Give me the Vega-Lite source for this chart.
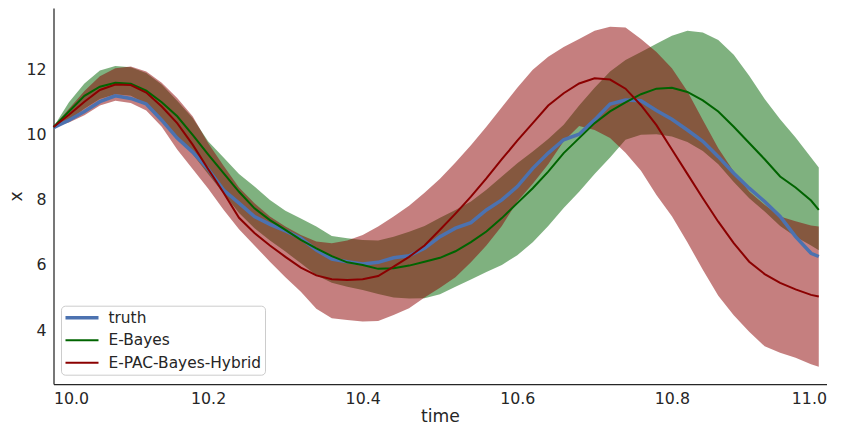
{
  "$schema": "https://vega.github.io/schema/vega-lite/v6.json",
  "width": 773,
  "height": 376,
  "autosize": {"type": "none"},
  "padding": {"left": 53.5, "top": 8, "right": 20.5, "bottom": 46},
  "background": "white",
  "data": {"values": [
    {"t": 10.00, "truth": 10.22, "eb": 10.24, "eb_lo": 10.24, "eb_hi": 10.24, "pac": 10.24, "pac_lo": 10.24, "pac_hi": 10.24},
    {"t": 10.02, "truth": 10.45, "eb": 10.72, "eb_lo": 10.45, "eb_hi": 11.0, "pac": 10.62, "pac_lo": 10.38, "pac_hi": 10.8},
    {"t": 10.04, "truth": 10.72, "eb": 11.2, "eb_lo": 10.8, "eb_hi": 11.58, "pac": 11.02, "pac_lo": 10.6, "pac_hi": 11.35},
    {"t": 10.06, "truth": 11.02, "eb": 11.48, "eb_lo": 11.1, "eb_hi": 11.98, "pac": 11.38, "pac_lo": 10.9, "pac_hi": 11.8},
    {"t": 10.08, "truth": 11.2, "eb": 11.6, "eb_lo": 11.25, "eb_hi": 12.12, "pac": 11.55, "pac_lo": 11.05, "pac_hi": 12.05},
    {"t": 10.10, "truth": 11.12, "eb": 11.57, "eb_lo": 11.2, "eb_hi": 12.08, "pac": 11.53, "pac_lo": 10.98, "pac_hi": 12.1},
    {"t": 10.12, "truth": 10.95, "eb": 11.36, "eb_lo": 10.95, "eb_hi": 11.9, "pac": 11.3, "pac_lo": 10.75, "pac_hi": 11.95},
    {"t": 10.14, "truth": 10.45, "eb": 11.0, "eb_lo": 10.5, "eb_hi": 11.55, "pac": 10.87, "pac_lo": 10.25, "pac_hi": 11.6},
    {"t": 10.16, "truth": 9.9, "eb": 10.57, "eb_lo": 9.95, "eb_hi": 11.05, "pac": 10.36, "pac_lo": 9.55, "pac_hi": 11.13},
    {"t": 10.18, "truth": 9.47, "eb": 10.0, "eb_lo": 9.4, "eb_hi": 10.52, "pac": 9.7, "pac_lo": 8.95, "pac_hi": 10.57},
    {"t": 10.20, "truth": 8.95, "eb": 9.4, "eb_lo": 8.8, "eb_hi": 9.8, "pac": 8.95, "pac_lo": 8.35, "pac_hi": 9.75},
    {"t": 10.22, "truth": 8.3, "eb": 8.82, "eb_lo": 8.2, "eb_hi": 9.3, "pac": 8.22, "pac_lo": 7.7, "pac_hi": 9.05},
    {"t": 10.24, "truth": 7.9, "eb": 8.25, "eb_lo": 7.6, "eb_hi": 8.8, "pac": 7.45, "pac_lo": 7.1, "pac_hi": 8.38},
    {"t": 10.26, "truth": 7.49, "eb": 7.74, "eb_lo": 7.13, "eb_hi": 8.41, "pac": 6.98, "pac_lo": 6.6, "pac_hi": 7.9},
    {"t": 10.28, "truth": 7.25, "eb": 7.38, "eb_lo": 6.75, "eb_hi": 8.0, "pac": 6.6, "pac_lo": 6.1, "pac_hi": 7.49},
    {"t": 10.30, "truth": 7.05, "eb": 7.08, "eb_lo": 6.41, "eb_hi": 7.67, "pac": 6.25, "pac_lo": 5.62, "pac_hi": 7.18},
    {"t": 10.32, "truth": 6.82, "eb": 6.77, "eb_lo": 6.05, "eb_hi": 7.43, "pac": 5.92, "pac_lo": 5.18, "pac_hi": 6.92},
    {"t": 10.34, "truth": 6.46, "eb": 6.51, "eb_lo": 5.68, "eb_hi": 7.18, "pac": 5.68, "pac_lo": 4.65, "pac_hi": 6.72},
    {"t": 10.36, "truth": 6.18, "eb": 6.27, "eb_lo": 5.45, "eb_hi": 6.89, "pac": 5.56, "pac_lo": 4.36, "pac_hi": 6.67},
    {"t": 10.38, "truth": 6.1, "eb": 6.08, "eb_lo": 5.33, "eb_hi": 6.82, "pac": 5.54, "pac_lo": 4.31, "pac_hi": 6.75},
    {"t": 10.40, "truth": 6.03, "eb": 6.0, "eb_lo": 5.23, "eb_hi": 6.77, "pac": 5.56, "pac_lo": 4.26, "pac_hi": 6.92},
    {"t": 10.42, "truth": 6.08, "eb": 5.88, "eb_lo": 5.11, "eb_hi": 6.75, "pac": 5.66, "pac_lo": 4.28, "pac_hi": 7.18},
    {"t": 10.44, "truth": 6.22, "eb": 5.9, "eb_lo": 5.0, "eb_hi": 6.87, "pac": 5.95, "pac_lo": 4.46, "pac_hi": 7.49},
    {"t": 10.46, "truth": 6.28, "eb": 5.98, "eb_lo": 4.97, "eb_hi": 7.02, "pac": 6.25, "pac_lo": 4.67, "pac_hi": 7.82},
    {"t": 10.48, "truth": 6.51, "eb": 6.1, "eb_lo": 4.98, "eb_hi": 7.2, "pac": 6.6, "pac_lo": 5.0, "pac_hi": 8.22},
    {"t": 10.50, "truth": 6.87, "eb": 6.22, "eb_lo": 5.1, "eb_hi": 7.45, "pac": 7.08, "pac_lo": 5.3, "pac_hi": 8.65},
    {"t": 10.52, "truth": 7.13, "eb": 6.42, "eb_lo": 5.33, "eb_hi": 7.69, "pac": 7.58, "pac_lo": 5.62, "pac_hi": 9.15},
    {"t": 10.54, "truth": 7.3, "eb": 6.7, "eb_lo": 5.55, "eb_hi": 7.95, "pac": 8.1, "pac_lo": 6.08, "pac_hi": 9.68},
    {"t": 10.56, "truth": 7.69, "eb": 7.03, "eb_lo": 5.78, "eb_hi": 8.31, "pac": 8.66, "pac_lo": 6.6, "pac_hi": 10.25},
    {"t": 10.58, "truth": 8.0, "eb": 7.44, "eb_lo": 6.0, "eb_hi": 8.72, "pac": 9.25, "pac_lo": 7.2, "pac_hi": 10.85},
    {"t": 10.60, "truth": 8.41, "eb": 7.9, "eb_lo": 6.3, "eb_hi": 9.13, "pac": 9.82, "pac_lo": 7.95, "pac_hi": 11.45},
    {"t": 10.62, "truth": 8.97, "eb": 8.36, "eb_lo": 6.7, "eb_hi": 9.49, "pac": 10.36, "pac_lo": 8.5, "pac_hi": 12.0},
    {"t": 10.64, "truth": 9.44, "eb": 8.87, "eb_lo": 7.2, "eb_hi": 9.87, "pac": 10.9, "pac_lo": 9.1, "pac_hi": 12.4},
    {"t": 10.66, "truth": 9.85, "eb": 9.44, "eb_lo": 7.75, "eb_hi": 10.31, "pac": 11.28, "pac_lo": 9.8, "pac_hi": 12.7},
    {"t": 10.68, "truth": 10.02, "eb": 9.9, "eb_lo": 8.25, "eb_hi": 10.9, "pac": 11.58, "pac_lo": 10.27, "pac_hi": 12.95},
    {"t": 10.70, "truth": 10.46, "eb": 10.36, "eb_lo": 8.8, "eb_hi": 11.45, "pac": 11.74, "pac_lo": 10.15, "pac_hi": 13.2},
    {"t": 10.72, "truth": 10.95, "eb": 10.72, "eb_lo": 9.3, "eb_hi": 11.95, "pac": 11.7, "pac_lo": 9.9, "pac_hi": 13.32},
    {"t": 10.74, "truth": 11.07, "eb": 11.0, "eb_lo": 9.85, "eb_hi": 12.3, "pac": 11.42, "pac_lo": 9.45, "pac_hi": 13.3},
    {"t": 10.76, "truth": 11.05, "eb": 11.25, "eb_lo": 10.0, "eb_hi": 12.55, "pac": 10.91, "pac_lo": 8.9, "pac_hi": 12.95},
    {"t": 10.78, "truth": 10.75, "eb": 11.42, "eb_lo": 10.02, "eb_hi": 12.8, "pac": 10.3, "pac_lo": 8.15, "pac_hi": 12.55},
    {"t": 10.80, "truth": 10.48, "eb": 11.45, "eb_lo": 9.95, "eb_hi": 13.05, "pac": 9.55, "pac_lo": 7.5, "pac_hi": 12.05},
    {"t": 10.82, "truth": 10.15, "eb": 11.32, "eb_lo": 9.78, "eb_hi": 13.2, "pac": 8.8, "pac_lo": 6.7, "pac_hi": 11.34},
    {"t": 10.84, "truth": 9.8, "eb": 11.06, "eb_lo": 9.5, "eb_hi": 13.15, "pac": 8.05, "pac_lo": 5.85, "pac_hi": 10.46},
    {"t": 10.86, "truth": 9.33, "eb": 10.72, "eb_lo": 9.1, "eb_hi": 12.92, "pac": 7.33, "pac_lo": 5.05, "pac_hi": 9.59},
    {"t": 10.88, "truth": 8.82, "eb": 10.25, "eb_lo": 8.55, "eb_hi": 12.46, "pac": 6.67, "pac_lo": 4.45, "pac_hi": 8.87},
    {"t": 10.90, "truth": 8.36, "eb": 9.75, "eb_lo": 8.05, "eb_hi": 11.82, "pac": 6.1, "pac_lo": 3.95, "pac_hi": 8.26},
    {"t": 10.92, "truth": 7.95, "eb": 9.25, "eb_lo": 7.64, "eb_hi": 11.1, "pac": 5.72, "pac_lo": 3.5, "pac_hi": 7.85},
    {"t": 10.94, "truth": 7.49, "eb": 8.72, "eb_lo": 7.2, "eb_hi": 10.48, "pac": 5.45, "pac_lo": 3.3, "pac_hi": 7.49},
    {"t": 10.96, "truth": 6.87, "eb": 8.38, "eb_lo": 6.87, "eb_hi": 9.92, "pac": 5.25, "pac_lo": 3.15, "pac_hi": 7.34},
    {"t": 10.98, "truth": 6.36, "eb": 7.98, "eb_lo": 6.6, "eb_hi": 9.3, "pac": 5.08, "pac_lo": 2.95, "pac_hi": 7.21},
    {"t": 10.99, "truth": 6.26, "eb": 7.69, "eb_lo": 6.45, "eb_hi": 9.0, "pac": 5.03, "pac_lo": 2.87, "pac_hi": 7.18}
  ]},
  "encoding": {
    "x": {"field": "t", "type": "quantitative",
      "scale": {"domain": [10, 11], "nice": false},
      "axis": {"values": [10, 10.2, 10.4, 10.6, 10.8, 11], "format": ".1f", "title": "time",
        "labelBaseline": "alphabetic", "labelPadding": 19.3,
        "titleBaseline": "alphabetic", "titleY": 37.7}}
  },
  "layer": [
    {"mark": {"type": "area", "color": "#006400", "opacity": 0.5},
     "encoding": {
       "y": {"field": "eb_lo", "type": "quantitative", "title": "x",
         "scale": {"domain": [2.34, 13.9], "nice": false, "zero": false},
         "axis": {"values": [4, 6, 8, 10, 12], "labelPadding": 7.5,
           "titleBaseline": "alphabetic", "titleX": -31.8, "titleAngle": -90}},
       "y2": {"field": "eb_hi"}}},
    {"mark": {"type": "area", "color": "#8B0000", "opacity": 0.5},
     "encoding": {
       "y": {"field": "pac_lo", "type": "quantitative", "title": "x"},
       "y2": {"field": "pac_hi"}}},
    {"mark": {"type": "line", "strokeWidth": 3.5},
     "encoding": {
       "y": {"field": "truth", "type": "quantitative", "title": "x"},
       "color": {"datum": "truth", "type": "nominal",
         "scale": {"domain": ["truth", "E-Bayes", "E-PAC-Bayes-Hybrid"], "range": ["#4C72B0", "#006400", "#8B0000"]},
         "legend": {"title": null, "orient": "none", "legendX": 7.5, "legendY": 297.7,
           "symbolType": "stroke", "symbolSize": 1089, "symbolStrokeWidth": 2,
           "labelFontSize": 15.4, "labelFont": "DejaVu Sans", "labelColor": "#262626", "labelOffset": 9,
           "padding": 3.5, "rowPadding": 5.5, "clipHeight": 17,
           "fillColor": "rgba(255,255,255,0.8)", "strokeColor": "#cccccc", "cornerRadius": 4,
           "encode": {"symbols": {"update": {"strokeWidth": {"signal": "(datum.value === 'truth' ? 3.5 : 2)"}}}}}}}},
    {"mark": {"type": "line", "strokeWidth": 2},
     "encoding": {
       "y": {"field": "eb", "type": "quantitative", "title": "x"},
       "color": {"datum": "E-Bayes", "type": "nominal"}}},
    {"mark": {"type": "line", "strokeWidth": 2},
     "encoding": {
       "y": {"field": "pac", "type": "quantitative", "title": "x"},
       "color": {"datum": "E-PAC-Bayes-Hybrid", "type": "nominal"}}}
  ],
  "config": {
    "view": {"stroke": null},
    "font": "DejaVu Sans",
    "axis": {"domainColor": "#262626", "domainWidth": 1.25, "ticks": false, "grid": false,
      "labelFont": "DejaVu Sans", "labelFontSize": 15.8, "labelColor": "#262626",
      "titleFont": "DejaVu Sans", "titleFontSize": 17.2, "titleFontWeight": "normal", "titleColor": "#262626"}
  }
}
